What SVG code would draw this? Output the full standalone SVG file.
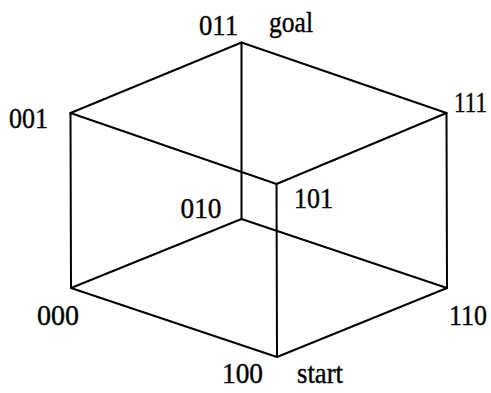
<svg xmlns="http://www.w3.org/2000/svg" width="491" height="393" viewBox="0 0 491 393">
<style>
.e{stroke:#000;stroke-width:2;fill:none;stroke-linecap:round;stroke-linejoin:round}
text{font-family:"Liberation Serif","Times New Roman",serif;font-size:29px;fill:#000;stroke:#000;stroke-width:0.4}
</style>
<rect width="491" height="393" fill="#fff"/>
<g id="connectors">
<line class="e" x1="70.5" y1="113" x2="241.5" y2="42.5"/>
<line class="e" x1="241.5" y1="42.5" x2="446.5" y2="113"/>
<line class="e" x1="70.5" y1="113" x2="276.5" y2="184"/>
<line class="e" x1="276.5" y1="184" x2="446.5" y2="113"/>
<line class="e" x1="241.5" y1="42.5" x2="241.5" y2="219"/>
<line class="e" x1="70.5" y1="113" x2="71" y2="288"/>
<line class="e" x1="446.5" y1="113" x2="447" y2="288"/>
<line class="e" x1="276.5" y1="184" x2="277" y2="357"/>
<line class="e" x1="71" y1="288" x2="277" y2="357"/>
<line class="e" x1="277" y1="357" x2="447" y2="288"/>
<line class="e" x1="71" y1="288" x2="241.5" y2="219"/>
<line class="e" x1="241.5" y1="219" x2="447" y2="288"/>
</g>
<g id="n011"><text x="199" y="35" textLength="39" lengthAdjust="spacingAndGlyphs">011</text></g>
<g id="goal"><text x="269" y="32" textLength="44" lengthAdjust="spacingAndGlyphs">goal</text></g>
<g id="n001"><text x="9" y="128" textLength="39" lengthAdjust="spacingAndGlyphs">001</text></g>
<g id="n111"><text x="454" y="112" textLength="33" lengthAdjust="spacingAndGlyphs">111</text></g>
<g id="n010"><text x="180.5" y="218" textLength="41" lengthAdjust="spacingAndGlyphs">010</text></g>
<g id="n101"><text x="294" y="208" textLength="39" lengthAdjust="spacingAndGlyphs">101</text></g>
<g id="n000"><text x="37" y="325" textLength="42" lengthAdjust="spacingAndGlyphs">000</text></g>
<g id="n110"><text x="449" y="325" textLength="38" lengthAdjust="spacingAndGlyphs">110</text></g>
<g id="n100"><text x="222" y="383" textLength="41" lengthAdjust="spacingAndGlyphs">100</text></g>
<g id="start"><text x="297" y="383" textLength="46" lengthAdjust="spacingAndGlyphs">start</text></g>
</svg>
